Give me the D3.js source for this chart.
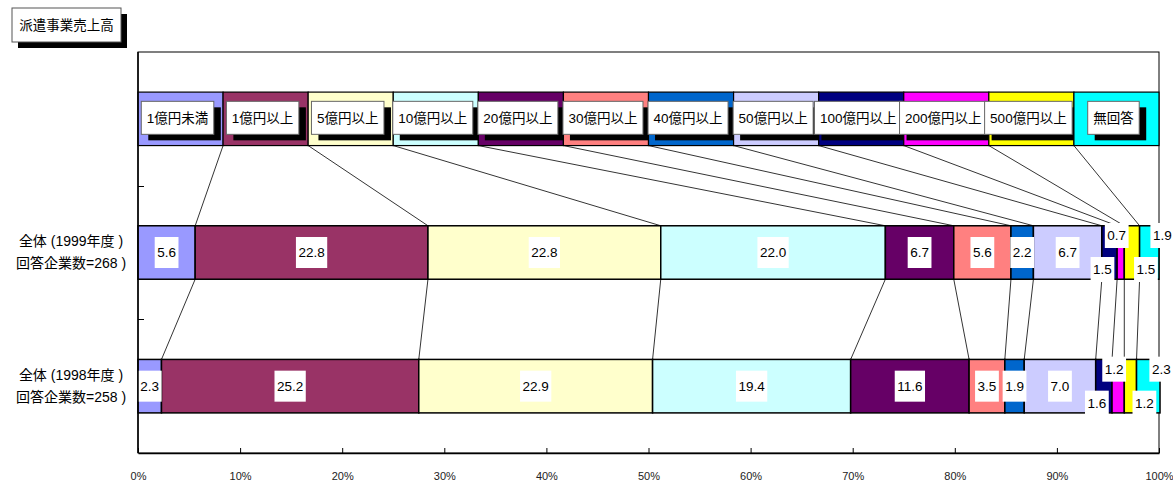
<!DOCTYPE html>
<html>
<head>
<meta charset="utf-8">
<script src="https://cdn.jsdelivr.net/npm/d3@7"></script>
<style>
  body { margin:0; background:#fff; }
  text { font-family:"Liberation Sans","Noto Sans CJK JP",sans-serif; }
</style>
</head>
<body>
<script>

// categories (sales bands) and their colours
var categories = ["1億円未満","1億円以上","5億円以上","10億円以上","20億円以上","30億円以上",
                  "40億円以上","50億円以上","100億円以上","200億円以上","500億円以上","無回答"];
var colors = ["#9999ff","#993366","#ffffcc","#ccffff","#660066","#ff8080",
              "#0066cc","#ccccff","#000080","#ff00ff","#ffff00","#00ffff"];

// shares in %
var values1999 = [5.6,22.8,22.8,22.0,6.7,5.6,2.2,6.7,1.5,0.7,1.5,1.9];
var values1998 = [2.3,25.2,22.9,19.4,11.6,3.5,1.9,7.0,1.6,1.2,1.2,2.3];

var rowKeys = ["legend","1999","1998"];
var label1999 = ["全体 (1999年度 )","回答企業数=268 )"];
var label1998 = ["全体 (1998年度 )","回答企業数=258 )"];
var xTickValues = [0,10,20,30,40,50,60,70,80,90,100];
var title = "派遣事業売上高";

var W = 1173, H = 487;
var margins = {top:52, left:138, right:14, bottom:34};

var svg = d3.select("body").append("svg")
    .attr("width",W).attr("height",H);

var x = d3.scaleLinear().domain([0,100]).range([margins.left, W-margins.right]);
var y = d3.scaleBand().domain(rowKeys).range([margins.top, H-margins.bottom])
    .paddingInner(0.6).paddingOuter(0.3);
var xLegend = d3.scaleBand().domain(categories).range([x(0), x(100)]);

// stacked segments
var stack = function(values) {
  var cum = 0;
  return values.map(function(v,i){
    var s = {i:i, value:v, x0:cum, x1:cum+v};
    cum += v;
    return s;
  });
};
var rows = [
  {key:"1999", segs:stack(values1999), label:label1999},
  {key:"1998", segs:stack(values1998), label:label1998}
];

// title box
var tg = svg.append("g").attr("transform","translate(12,8)");
tg.append("rect").attr("x",6).attr("y",6).attr("width",109).attr("height",34).attr("fill","#000");
tg.append("rect").attr("width",109).attr("height",34).attr("fill","#fff").attr("stroke","#555");
tg.append("text").attr("x",54.5).attr("y",17).attr("dy","0.35em")
  .attr("text-anchor","middle").style("font-size","13.5px").text(title);

// plot frame
svg.append("rect")
  .attr("x",x(0)).attr("y",margins.top)
  .attr("width",x(100)-x(0)).attr("height",H-margins.bottom-margins.top)
  .attr("fill","none").attr("stroke","#000");

// series lines
var lines = svg.append("g").attr("stroke","#000").attr("stroke-width",0.8);
var bw = y.bandwidth();
for (var k=1;k<categories.length;k++) {
  lines.append("line")
    .attr("x1",xLegend(categories[k])).attr("y1",y("legend")+bw)
    .attr("x2",x(rows[0].segs[k].x0)).attr("y2",y("1999"));
  lines.append("line")
    .attr("x1",x(rows[0].segs[k].x0)).attr("y1",y("1999")+bw)
    .attr("x2",x(rows[1].segs[k].x0)).attr("y2",y("1998"));
}

// legend row
var lg = svg.append("g");
var cells = lg.selectAll("g").data(categories).enter().append("g");
cells.append("rect")
  .attr("x",function(d){return xLegend(d);})
  .attr("y",y("legend"))
  .attr("width",xLegend.bandwidth())
  .attr("height",bw)
  .attr("fill",function(d,i){return colors[i];})
  .attr("stroke","#000").attr("stroke-width",1.2);
cells.each(function(d){
  var g = d3.select(this);
  var cx = xLegend(d)+xLegend.bandwidth()/2 - 3;
  var cy = y("legend")+bw/2 - 1;
  var t = g.append("text").attr("x",cx).attr("y",cy).attr("dy","0.35em")
    .attr("text-anchor","middle").style("font-size","13.5px").text(d);
  var tw = t.node().getComputedTextLength()+11;
  g.insert("rect","text").attr("x",cx-tw/2+7).attr("y",cy-16.5+6)
    .attr("width",tw).attr("height",33).attr("fill","#000");
  g.insert("rect","text").attr("x",cx-tw/2).attr("y",cy-16.5)
    .attr("width",tw).attr("height",33).attr("fill","#fff").attr("stroke","#666");
});

// data bars
var nudge = {8:{dx:-7,dy:17}, 9:{dx:-4,dy:-17}, 10:{dx:14,dy:17}, 11:{dx:13,dy:-17}};
rows.forEach(function(row){
  var g = svg.append("g");
  g.selectAll("rect").data(row.segs).enter().append("rect")
    .attr("x",function(d){return x(d.x0);})
    .attr("y",y(row.key))
    .attr("width",function(d){return x(d.x1)-x(d.x0);})
    .attr("height",bw)
    .attr("fill",function(d){return colors[d.i];})
    .attr("stroke","#000").attr("stroke-width",1.5);
  var labs = g.selectAll("g.lab").data(row.segs).enter().append("g").classed("lab",true);
  labs.each(function(d){
    var n = nudge[d.i] || {dx:0,dy:0};
    var cx = x((d.x0+d.x1)/2)+n.dx;
    var cy = y(row.key)+bw/2+n.dy;
    var h = nudge[d.i] ? 25 : 31;
    var t = d3.select(this).append("text").attr("x",cx).attr("y",cy).attr("dy","0.35em")
      .attr("text-anchor","middle").style("font-size","13.5px").text(d.value.toFixed(1));
    var tw = t.node().getComputedTextLength()+5;
    d3.select(this).insert("rect","text").attr("x",cx-tw/2).attr("y",cy-h/2)
      .attr("width",tw).attr("height",h).attr("fill","#fff");
  });
  // category label
  row.label.forEach(function(s,j){
    svg.append("text").attr("x",71).attr("y",y(row.key)+bw/2+(j==0?-11:11))
      .attr("dy","0.35em").attr("text-anchor","middle")
      .style("font-size","14px").text(s);
  });
});

// y axis ticks (band boundaries)
var yAxis = svg.append("g").attr("stroke","#000");
rowKeys.slice(1).forEach(function(k){
  var yy = Math.round(y(k) - y.step()*y.paddingInner()/2)+0.5;
  yAxis.append("line").attr("x1",x(0)).attr("x2",x(0)+6).attr("y1",yy).attr("y2",yy);
});
yAxis.append("line").attr("x1",x(0)).attr("x2",x(0))
  .attr("y1",margins.top).attr("y2",H-margins.bottom).attr("stroke-width",1.5);

// x axis
var xAxis = svg.append("g")
  .attr("transform","translate(0,"+(H-margins.bottom)+")")
  .call(d3.axisBottom(x).tickValues(xTickValues)
        .tickFormat(function(d){return d+"%";})
        .tickSizeInner(-5).tickSizeOuter(0).tickPadding(19));
xAxis.select(".domain").attr("stroke","#000").attr("stroke-width",1.5);
xAxis.selectAll("text").style("font-size","11px").attr("fill","#222")
  .style("font-family","'Liberation Sans Narrow','Liberation Sans',sans-serif");

</script>
</body>
</html>
